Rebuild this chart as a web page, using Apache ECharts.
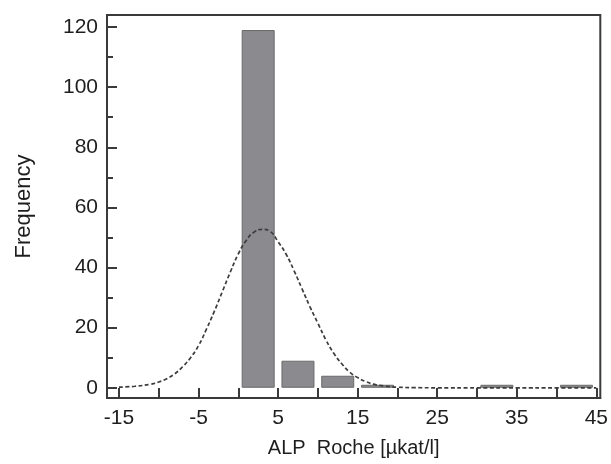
<!DOCTYPE html>
<html>
<head>
<meta charset="utf-8">
<script src="https://cdn.jsdelivr.net/npm/echarts@6/dist/echarts.min.js"></script>
<style>html,body{margin:0;padding:0;background:#fff;}#c{width:611px;height:464px;}</style>
</head>
<body>
<div id="c"></div>
<script>
// Histogram bins (centre of each 5-unit bin) and counts
const binCenters = [2.5, 7.5, 12.5, 17.5, 32.5, 42.5];
const frequencies = [119, 9, 4, 1, 1, 1];

// Fitted normal curve
const curveX = [-15, -13, -11, -10, -9, -8, -7, -6, -5, -4, -3, -2, -1, 0, 1, 2, 3, 4, 5, 6, 7, 8, 9, 10, 11, 12, 13, 14, 15, 16, 17, 18, 19, 20, 22, 25, 30, 35, 40, 45];
const curveY = [0.2, 0.5, 1.2, 1.9, 3.0, 4.6, 7.0, 10.0, 14.0, 19.5, 25.5, 32, 38.5, 44.5, 49, 51.8, 52.7, 52, 48.6, 44.5, 39, 33, 27, 21.5, 16, 11.5, 8, 5.2, 3.4, 2.1, 1.2, 0.7, 0.4, 0.2, 0.05, 0, 0, 0, 0, 0];

// Axis ticks and labels
const xTickValues = [-15, -10, -5, 0, 5, 10, 15, 20, 25, 30, 35, 40, 45];
const xLabelValues = [-15, -5, 5, 15, 25, 35, 45];
const yLabelValues = [0, 20, 40, 60, 80, 100, 120];
const yMinorValues = [10, 30, 50, 70, 90, 110];

const xAxisTitle = 'ALP  Roche [\u00b5kat/l]';
const yAxisTitle = 'Frequency';

const FONT = '"Liberation Sans", Arial, Helvetica, sans-serif';
const AX = '#3a3a3a';

const chart = echarts.init(document.getElementById('c'), null, {renderer: 'canvas'});
chart.setOption({
  animation: false,
  backgroundColor: '#fff',
  grid: {left: 107, right: 8, top: 15, bottom: 66, show: true, borderColor: AX, borderWidth: 2, backgroundColor: 'transparent'},
  xAxis: {
    type: 'value', min: -16.5, max: 45.5,
    splitLine: {show: false},
    axisLine: {show: true, onZero: false, lineStyle: {color: AX, width: 2}},
    axisTick: {show: true, inside: true, length: 10, lineStyle: {color: AX, width: 2}, customValues: xTickValues},
    axisLabel: {customValues: xLabelValues, color: '#1e1e1e', fontSize: 21, fontFamily: FONT, margin: 10},
    name: xAxisTitle, nameLocation: 'middle', nameGap: 40,
    nameTextStyle: {color: '#1e1e1e', fontSize: 20, fontFamily: FONT}
  },
  yAxis: [{
    type: 'value', min: -3.4, max: 124,
    splitLine: {show: false},
    axisLine: {show: true, onZero: false, lineStyle: {color: AX, width: 2}},
    axisTick: {show: true, inside: true, length: 10, lineStyle: {color: AX, width: 2}, customValues: yLabelValues},
    axisLabel: {customValues: yLabelValues, color: '#1e1e1e', fontSize: 21, fontFamily: FONT, margin: 9},
    name: yAxisTitle, nameLocation: 'middle', nameGap: 72,
    nameTextStyle: {color: '#1e1e1e', fontSize: 22, fontFamily: FONT}
  }, {
    type: 'value', min: -3.4, max: 124, position: 'left',
    splitLine: {show: false},
    axisLine: {show: false, onZero: false},
    axisTick: {show: true, inside: true, length: 6, lineStyle: {color: AX, width: 2}, customValues: yMinorValues},
    axisLabel: {show: false}
  }],
  series: [{
    type: 'bar',
    data: binCenters.map((c, i) => [c, frequencies[i]]),
    barWidth: 33,
    itemStyle: {color: '#8b8b8f', borderColor: '#6a6a6a', borderWidth: 1},
    z: 2
  }, {
    type: 'line',
    data: curveX.map((x, i) => [x, curveY[i]]),
    smooth: true,
    symbol: 'none',
    lineStyle: {color: '#3c3c3c', width: 1.7, type: [4, 2.5]},
    z: 3
  }]
});
</script>
</body>
</html>
